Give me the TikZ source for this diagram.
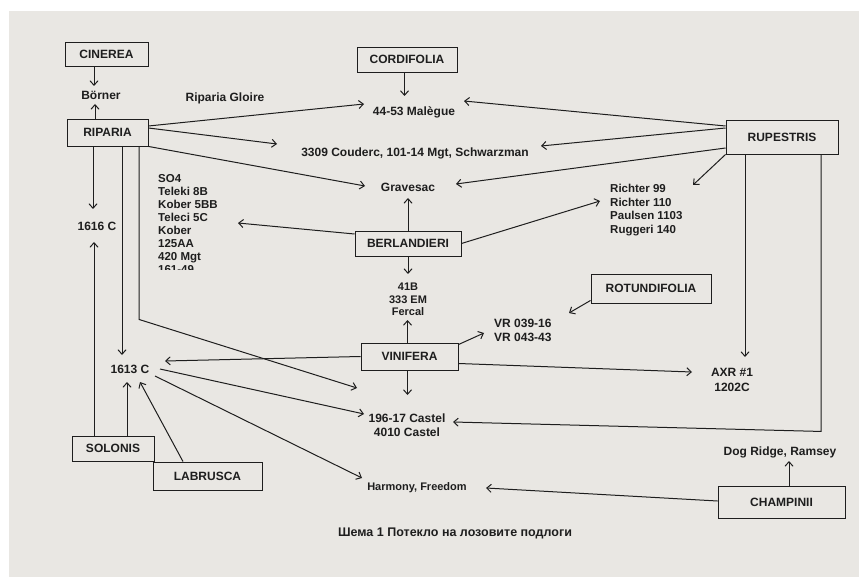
\documentclass[tikz,border=0pt]{standalone}
\usepackage{fontspec}
\setmainfont{Liberation Sans}
\usetikzlibrary{arrows.meta,calc}
\definecolor{paper}{HTML}{E9E7E3}
\definecolor{ink}{HTML}{1E1E1E}
\begin{document}
\begin{tikzpicture}[x=1pt,y=-1pt,
  box/.style={draw=ink, line width=0.9pt, inner sep=0pt, text=ink,
    font=\fontsize{12}{14}\selectfont\bfseries},
  lbl/.style={inner sep=0pt, text=ink, font=\fontsize{12}{14}\selectfont\bfseries},
  arr/.style={draw=ink, line width=1pt, -{Straight Barb[length=4.5pt,width=8pt]}},
  ln/.style={draw=ink, line width=1pt}]
\useasboundingbox (0,0) rectangle (859,577);
\fill[white] (0,0) rectangle (859,577);
\fill[paper] (9,11) rectangle (859,577);

% boxes
\node[box, minimum width=83pt, minimum height=24pt] (cin) at (106.5,54) {CINEREA};
\node[box, minimum width=81pt, minimum height=27pt] (rip) at (107.5,132.5) {RIPARIA};
\node[box, minimum width=100pt, minimum height=25pt] (cord) at (407,59.5) {CORDIFOLIA};
\node[box, minimum width=112pt, minimum height=34pt] (rup) at (782,137) {RUPESTRIS};
\node[box, minimum width=106pt, minimum height=25pt] (berl) at (408,243.5) {BERLANDIERI};
\node[box, minimum width=120pt, minimum height=29pt] (rot) at (651,288.5) {ROTUNDIFOLIA};
\node[box, minimum width=97pt, minimum height=27pt] (vin) at (409.5,356.5) {VINIFERA};
\node[box, minimum width=127pt, minimum height=32pt] (champ) at (781.5,502) {CHAMPINII};
\node[box, minimum width=82pt, minimum height=25pt] (sol) at (113,448.5) {SOLONIS};
\node[box, minimum width=109pt, minimum height=28pt] (lab) at (207.5,476) {LABRUSCA};

% labels
\node[lbl, anchor=base] (borner) at (101,99.3) {Börner};
\node[lbl, anchor=base] (gloire) at (225,101.3) {Riparia Gloire};
\node[lbl, anchor=base] (mal) at (414,115.3) {44-53 Malègue};
\node[lbl, anchor=base] (couderc) at (415,156.3) {3309 Couderc, 101-14 Mgt, Schwarzman};
\node[lbl, anchor=base] (grav) at (408,191.3) {Gravesac};
\node[lbl, anchor=base] (c1616) at (97,230.3) {1616 C};
\node[lbl, anchor=base] (c1613) at (130,373.3) {1613 C};
\node[lbl, anchor=base, font=\fontsize{11}{13}\selectfont\bfseries] (harm) at (417,490) {Harmony, Freedom};
\node[lbl, anchor=base] (dog) at (780,455.3) {Dog Ridge, Ramsey};
\node[lbl, anchor=base, font=\fontsize{12.5}{14}\selectfont\bfseries] (cap) at (455,536.5) {Шема 1 Потекло на лозовите подлоги};

\node[lbl, anchor=north west, align=left, font=\fontsize{11.5}{13.7}\selectfont\bfseries] (richter) at (610,184)
  {Richter 99\\Richter 110\\Paulsen 1103\\Ruggeri 140};
\begin{scope}
\clip (150,160) rectangle (300,270);
\node[lbl, anchor=north west, align=left, font=\fontsize{11.5}{13.1}\selectfont\bfseries] (so4) at (158,174)
  {SO4\\Teleki 8B\\Kober 5BB\\Teleci 5C\\Kober\\125AA\\420 Mgt\\161-49};
\end{scope}
\node[lbl, anchor=north, align=center, font=\fontsize{11}{12.5}\selectfont\bfseries] (c41) at (408,283)
  {41B\\333 EM\\Fercal};
\node[lbl, anchor=north west, align=left, font=\fontsize{12}{14}\selectfont\bfseries] (vr) at (494,319)
  {VR 039-16\\VR 043-43};
\node[lbl, anchor=north, align=center, font=\fontsize{12}{15}\selectfont\bfseries] (axr) at (732,368)
  {AXR \#1\\1202C};
\node[lbl, anchor=north, align=center, font=\fontsize{12}{14}\selectfont\bfseries] (castel) at (407,414)
  {196-17 Castel\\4010 Castel};

% connectors
\draw[arr] ([shift={(-12.5,0)}]cin.south) -- ([shift={(-7,-13.3)}]borner.base);
\draw[arr] ([shift={(-12.5,0)}]rip.north) -- ([shift={(-6,4.7)}]borner.base);
\draw[arr] ([shift={(0,-6.5)}]rip.east) -- ([shift={(-50,-11.3)}]mal.base);
\draw[arr] ([shift={(0,-4.5)}]rip.east) -- ([shift={(-138,-12.3)}]couderc.base);
\draw[arr] (rip.south east) -- ([shift={(-43,-5.3)}]grav.base);
\draw[arr] ([shift={(-14.5,0)}]rip.south) -- ([shift={(-4,-21.3)}]c1616.base);
\draw[arr] ([shift={(14.5,0)}]rip.south) -- ([shift={(-8,-18.3)}]c1613.base);
\draw[arr] ([shift={(31.5,0)}]rip.south) -- ++(0,173) -- ([shift={(-50,-26)}]castel.north);
\draw[arr] ([shift={(30,-4.3)}]c1613.base) -- ([shift={(-43,0)}]castel.north);
\draw[arr] ([shift={(25,2.7)}]c1613.base) -- ([shift={(-55,-12)}]harm.base);
\draw[arr] (vin.west) -- ([shift={(35,-12.3)}]c1613.base);
\draw[arr] ([shift={(-2,0)}]vin.north) -- ([shift={(-0.5,37)}]c41.north);
\draw[arr] ([shift={(0,2)}]vin.north east) -- ([shift={(-10,14)}]vr.north west);
\draw[arr] ([shift={(0,7)}]vin.east) -- ([shift={(-40,4)}]axr.north);
\draw[arr] ([shift={(-2,0)}]vin.south) -- ([shift={(0.5,-19)}]castel.north);
\draw[arr] (berl.north) -- ([shift={(0,6.7)}]grav.base);
\draw[arr] (berl.south) -- ([shift={(0,-9)}]c41.north);
\draw[arr] ([shift={(0,-9.5)}]berl.west) -- ([shift={(80,49)}]so4.north west);
\draw[arr] (berl.east) -- ([shift={(-10,17)}]richter.north west);
\draw[arr] ([shift={(-2.5,0)}]cord.south) -- ([shift={(-9.5,-19.3)}]mal.base);
\draw[arr] ([shift={(0,-11)}]rup.west) -- ([shift={(50,-14.3)}]mal.base);
\draw[arr] ([shift={(0,-9)}]rup.west) -- ([shift={(126,-10.3)}]couderc.base);
\draw[arr] ([shift={(0,11)}]rup.west) -- ([shift={(48,-7.3)}]grav.base);
\draw[arr] (rup.south west) -- ([shift={(83,1)}]richter.north west);
\draw[arr] ([shift={(-37,0)}]rup.south) -- ([shift={(13,-11)}]axr.north);
\draw[arr] ([shift={(39,0)}]rup.south) -- ++(0,277) -- ([shift={(46,8)}]castel.north);
\draw[arr] ([shift={(7.5,0)}]champ.north) -- ([shift={(9,5.7)}]dog.base);
\draw[arr] ([shift={(0,-1)}]champ.west) -- ([shift={(69,-2)}]harm.base);
\draw[arr] ([shift={(-19,0)}]sol.north) -- ([shift={(-3,11.7)}]c1616.base);
\draw[arr] ([shift={(14,0)}]sol.north) -- ([shift={(-3,8.7)}]c1613.base);
\draw[arr] ([shift={(-24.5,0)}]lab.north) -- ([shift={(10,8.7)}]c1613.base);
\draw[arr] ([shift={(0,-3)}]rot.south west) -- ([shift={(75,-6)}]vr.north west);
\end{tikzpicture}
\end{document}
